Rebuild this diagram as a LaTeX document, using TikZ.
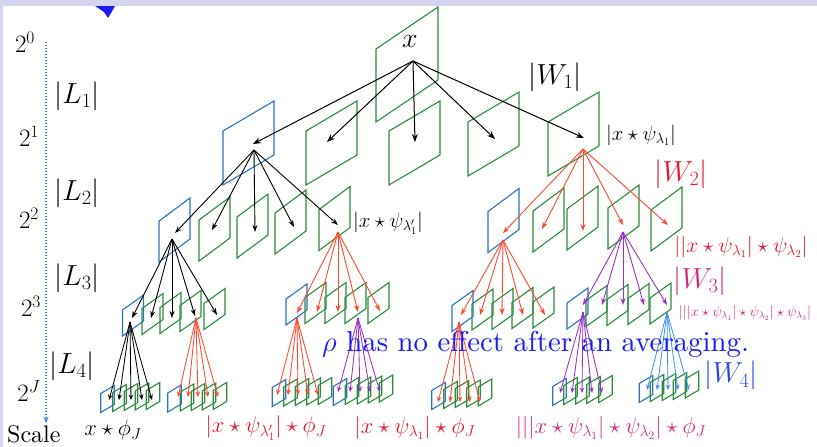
\RequirePackage{fix-cm}
\documentclass[tikz,border=0pt]{standalone}
\usepackage{fontspec}
\usetikzlibrary{arrows.meta}
\newfontfamily\lmten{lmroman10-regular.otf}

\definecolor{boxgreen}{RGB}{44,140,62}
\definecolor{boxblue}{RGB}{45,115,192}
\definecolor{arrred}{RGB}{255,72,48}
\definecolor{arrpurple}{RGB}{150,50,200}
\definecolor{arrblue}{RGB}{70,145,240}
\definecolor{labred}{RGB}{232,20,48}
\definecolor{labmag}{RGB}{212,40,128}
\definecolor{labblue}{RGB}{40,70,235}
\definecolor{sentblue}{RGB}{25,25,250}
\definecolor{framelav}{RGB}{212,212,238}
\definecolor{axisblue}{RGB}{50,120,235}

% parallelogram: colour, centre x, centre y, width, height, rise
\newcommand\plg[6]{\draw[bx,#1] ({#2-#4/2},{#3+#6/2+#5/2}) -- ({#2-#4/2},{#3+#6/2-#5/2})
  -- ({#2+#4/2},{#3-#6/2-#5/2}) -- ({#2+#4/2},{#3-#6/2+#5/2}) -- cycle;}
\newcommand\Lone[3]{\plg{#1}{#2}{#3}{51}{54}{30}}
\newcommand\Ltwo[3]{\plg{#1}{#2}{#3}{31}{41}{23}}
\newcommand\Lthree[3]{\plg{#1}{#2}{#3}{21}{26}{15}}
\newcommand\Lfour[3]{\plg{#1}{#2}{#3}{13.5}{19}{8}}

\begin{document}
\begin{tikzpicture}[x=1pt,y=-1pt,
  bx/.style={line width=1.1pt},
  arrA/.style={-{Stealth[length=8pt,width=6pt]}, line width=1pt},
  arrB/.style={-{Stealth[length=7pt,width=5pt]}, line width=0.9pt},
  arrC/.style={-{Stealth[length=5.5pt,width=4.5pt]}, line width=0.85pt},
  big/.style={inner sep=0pt, font=\fontsize{29}{33}\selectfont},
  pow/.style={inner sep=0pt, font=\fontsize{25}{29}\selectfont},
  mid/.style={inner sep=0pt, font=\fontsize{20.7}{24}\selectfont},
  bot/.style={inner sep=0pt, font=\fontsize{22.5}{26}\selectfont},
  sml/.style={inner sep=0pt, font=\fontsize{14.4}{16}\selectfont}]

\useasboundingbox (0,0) rectangle (817,447);
\fill[white] (0,0) rectangle (817,447);
\fill[framelav] (0,0) rectangle (817,6);
\fill[framelav] (0,0) rectangle (3,447);
% pointer fragment at the top edge
\fill[sentblue] (95,6) -- (115,6) -- (111,13) -- (108,18) -- (104,12) -- cycle;

% ---------- boxes ----------
\plg{boxgreen}{407}{64.5}{62}{73}{42}

\Lone{boxblue}{248.5}{143}
\Lone{boxgreen}{331.5}{143}
\Lone{boxgreen}{414.5}{143}
\Lone{boxgreen}{493.5}{134}
\Lone{boxgreen}{573.5}{134}

\Ltwo{boxblue}{174.5}{230}
\Ltwo{boxgreen}{214.5}{229}
\Ltwo{boxgreen}{252.5}{226}
\Ltwo{boxgreen}{290.5}{222}
\Ltwo{boxgreen}{334.5}{218.5}

\Ltwo{boxblue}{503.5}{220.5}
\Ltwo{boxgreen}{548.5}{220}
\Ltwo{boxgreen}{582.5}{218}
\Ltwo{boxgreen}{623.5}{217}
\Ltwo{boxgreen}{666.5}{219}

\Lthree{boxblue}{133}{315.5}
\Lthree{boxgreen}{152.5}{314}
\Lthree{boxgreen}{170.5}{313}
\Lthree{boxgreen}{190.5}{311}
\Lthree{boxgreen}{214.5}{309}

\Lthree{boxblue}{296.5}{304.5}
\Lthree{boxgreen}{315.5}{303}
\Lthree{boxgreen}{335.5}{303}
\Lthree{boxgreen}{355.5}{303}
\Lthree{boxgreen}{378.5}{303}

\Lthree{boxblue}{462.5}{311}
\Lthree{boxgreen}{482.5}{309.5}
\Lthree{boxgreen}{502.5}{309}
\Lthree{boxgreen}{522.5}{308}
\Lthree{boxgreen}{543.5}{307.5}

\Lthree{boxblue}{577.5}{308.5}
\Lthree{boxgreen}{596.5}{306}
\Lthree{boxgreen}{617.5}{305}
\Lthree{boxgreen}{638.5}{304}
\Lthree{boxgreen}{660.5}{303.5}

\Lfour{boxblue}{107.5}{399}
\Lfour{boxgreen}{119.5}{398}
\Lfour{boxgreen}{131}{397}
\Lfour{boxgreen}{142}{396.5}
\Lfour{boxgreen}{153}{396}

\Lfour{boxblue}{174.5}{398.5}
\Lfour{boxgreen}{187}{397.5}
\Lfour{boxgreen}{198}{397}
\Lfour{boxgreen}{209}{396.5}
\Lfour{boxgreen}{220}{396}

\Lfour{boxblue}{279}{393}
\Lfour{boxgreen}{290.5}{392.5}
\Lfour{boxgreen}{302}{392}
\Lfour{boxgreen}{313.5}{391.5}
\Lfour{boxgreen}{325}{391}

\Lfour{boxblue}{340}{392}
\Lfour{boxgreen}{352}{391}
\Lfour{boxgreen}{364}{390.5}
\Lfour{boxgreen}{375}{389.5}
\Lfour{boxgreen}{386}{388.5}

\Lfour{boxblue}{438.5}{396}
\Lfour{boxgreen}{450.5}{395}
\Lfour{boxgreen}{462}{394}
\Lfour{boxgreen}{473.5}{393.5}
\Lfour{boxgreen}{485}{392.5}

\Lfour{boxblue}{559.5}{392}
\Lfour{boxgreen}{570.5}{391}
\Lfour{boxgreen}{582.5}{390.5}
\Lfour{boxgreen}{593.5}{390}
\Lfour{boxgreen}{605.5}{389}

\Lfour{boxblue}{646}{389}
\Lfour{boxgreen}{657}{388}
\Lfour{boxgreen}{669}{387}
\Lfour{boxgreen}{680}{386}
\Lfour{boxgreen}{692}{384.5}

% ---------- arrow end points ----------
\coordinate (xo) at (413,61);
\foreach \n/\p in {1/{253,144},2/{327,142},3/{415,142},4/{495,139},5/{584,138}} \coordinate (a\n) at (\p);
\coordinate (a1o) at (254,150); \coordinate (a5o) at (583,149);
\foreach \n/\p in {1/{175,233},2/{212,230},3/{255,232},4/{294,227},5/{338,225}} \coordinate (b\n) at (\p);
\coordinate (b1o) at (172,239); \coordinate (b5o) at (338,232);
\foreach \n/\p in {1/{503,233},2/{542,229},3/{583,231},4/{623,225},5/{668,225}} \coordinate (c\n) at (\p);
\coordinate (c1o) at (503,240); \coordinate (c4o) at (623,232);
\foreach \n/\p in {1/{132,318},2/{151,318},3/{172,318},4/{195,316},5/{217,315}} \coordinate (d\n) at (\p);
\coordinate (d1o) at (130,322); \coordinate (d4o) at (196,318);
\foreach \n/\p in {1/{297,313},2/{317,312},3/{338,312},4/{358,312},5/{380,311}} \coordinate (e\n) at (\p);
\coordinate (e1o) at (297,318); \coordinate (e4o) at (358,318);
\foreach \n/\p in {1/{461,315},2/{480,315},3/{502,315},4/{523,315},5/{545,315}} \coordinate (f\n) at (\p);
\coordinate (f1o) at (459,322);
\foreach \n/\p in {1/{583,305},2/{602,305},3/{623,305},4/{644,305},5/{667,305}} \coordinate (g\n) at (\p);
\coordinate (g1o) at (583,312); \coordinate (g5o) at (667,312);
\foreach \n/\p in {1/{109,400},2/{119,400},3/{131,400},4/{142,400},5/{152,400}} \coordinate (h\n) at (\p);
\foreach \n/\p in {1/{178,397},2/{188,397},3/{198,397},4/{208,397},5/{218,397}} \coordinate (i\n) at (\p);
\foreach \n/\p in {1/{277,395},2/{288,395},3/{298,395},4/{308,395},5/{318,395}} \coordinate (j\n) at (\p);
\foreach \n/\p in {1/{338,392},2/{350,392},3/{360,392},4/{370,392},5/{380,392}} \coordinate (k\n) at (\p);
\foreach \n/\p in {1/{438,402},2/{450,402},3/{460,402},4/{470,402},5/{480,402}} \coordinate (l\n) at (\p);
\foreach \n/\p in {1/{560,393},2/{572,393},3/{582,393},4/{592,393},5/{602,393}} \coordinate (m\n) at (\p);
\foreach \n/\p in {1/{647,390},2/{657,390},3/{668,390},4/{678,390},5/{689,390}} \coordinate (n\n) at (\p);

% ---------- arrows ----------
\foreach \n in {1,...,5} {
  \draw[arrA,black] (xo) -- (a\n);
  \draw[arrB,black] (a1o) -- (b\n);
  \draw[arrB,arrred] (a5o) -- (c\n);
  \draw[arrB,black] (b1o) -- (d\n);
  \draw[arrB,arrred] (b5o) -- (e\n);
  \draw[arrB,arrred] (c1o) -- (f\n);
  \draw[arrB,arrpurple] (c4o) -- (g\n);
  \draw[arrC,black] (d1o) -- (h\n);
  \draw[arrC,arrred] (d4o) -- (i\n);
  \draw[arrC,arrred] (e1o) -- (j\n);
  \draw[arrC,arrpurple] (e4o) -- (k\n);
  \draw[arrC,arrred] (f1o) -- (l\n);
  \draw[arrC,arrpurple] (g1o) -- (m\n);
  \draw[arrC,arrblue] (g5o) -- (n\n);
}

% ---------- scale axis ----------
\coordinate (axtop) at (46,42);
\coordinate (axbot) at (46,423);
\draw[axisblue, line width=1.2pt, dash pattern=on 1.2pt off 1.8pt,
      -{Stealth[length=6pt,width=5pt]}] (axtop) -- (axbot);
\node[pow] (s0) at (25,42) {$2^0$};
\node[pow] (s1) at (29,136) {$2^1$};
\node[pow] (s2) at (29,218) {$2^2$};
\node[pow] (s3) at (31,306) {$2^3$};
\node[pow] (sJ) at (29,391) {$2^J$};
\node[anchor=base west, inner sep=0pt, font=\lmten\fontsize{24}{28}\selectfont] (scale) at (7,442.5) {Scale};
\node[big] (L1) at (77,96) {$|L_1|$};
\node[big] (L2) at (77,193) {$|L_2|$};
\node[big] (L3) at (77,278) {$|L_3|$};
\node[big] (L4) at (72,366) {$|L_4|$};

% ---------- labels ----------
\node[inner sep=0pt, font=\fontsize{28}{32}\selectfont] (xlab) at (410,41) {$x$};
\node[big] (W1) at (555,77) {$|W_1|$};
\node[mid] (u1) at (641,135) {$|x\star\psi_{\lambda_1}|$};
\node[mid] (u1p) at (388,223) {$|x\star\psi_{\lambda'_1}|$};
\node[big, text=labred] (W2) at (681,174) {$|W_2|$};
\node[mid, text=labred, font=\fontsize{21.5}{24}\selectfont] (u2) at (741,247) {$||x\star\psi_{\lambda_1}|\star\psi_{\lambda_2}|$};
\node[big, text=labmag] (W3) at (700,281) {$|W_3|$};
\node[sml, text=labmag] (u3) at (745,313) {$|||x\star\psi_{\lambda_1}|\star\psi_{\lambda_2}|\star\psi_{\lambda_3}|$};
\node[big, text=labblue] (W4) at (731,375.5) {$|W_4|$};

\node[bot] (o1) at (113,430) {$x\star\phi_J$};
\node[bot, text=labred] (o2) at (266,428) {$|x\star\psi_{\lambda'_1}|\star\phi_J$};
\node[bot, text=labred] (o3) at (415,428) {$|x\star\psi_{\lambda_1}|\star\phi_J$};
\node[bot, text=labmag] (o4) at (611,428) {$|||x\star\psi_{\lambda_1}|\star\psi_{\lambda_2}|\star\phi_J$};

\node[anchor=base west, inner sep=0pt, text=sentblue, font=\lmten\fontsize{28.8}{32}\selectfont]
  (note) at (322,351) {$\rho$ has no effect after an averaging.};
\end{tikzpicture}
\end{document}
